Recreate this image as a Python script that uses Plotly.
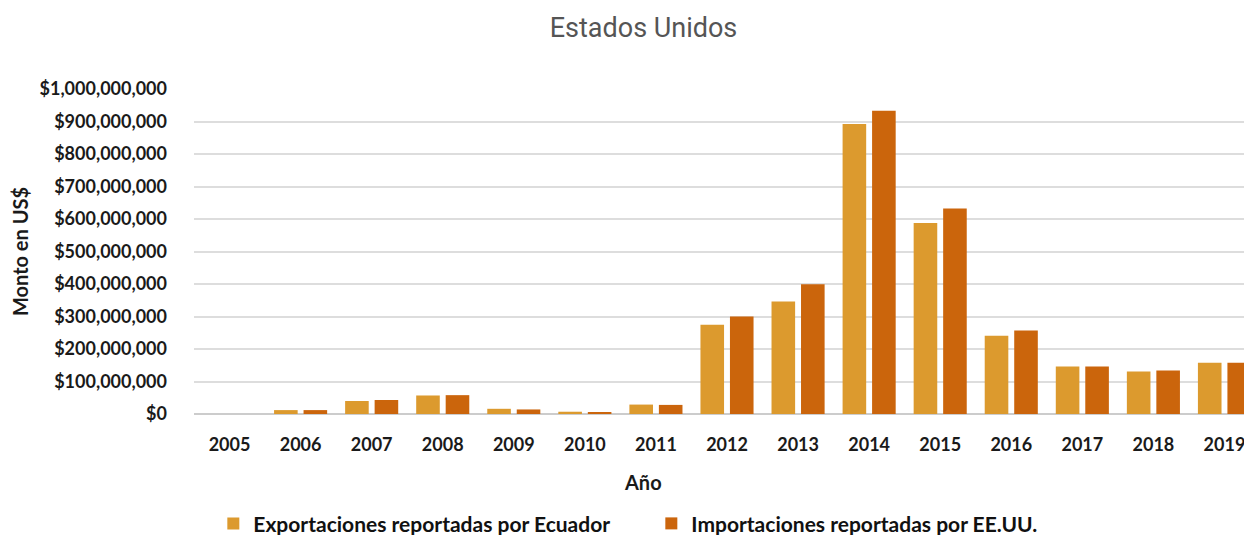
import plotly.graph_objects as go

years = [str(y) for y in range(2005, 2020)]
exportaciones = [0, 12e6, 40e6, 57e6, 16e6, 7e6, 29e6, 275e6, 346e6, 892e6, 588e6, 241e6, 146e6, 131e6, 158e6]
importaciones = [0, 12e6, 43e6, 58e6, 14e6, 6e6, 28e6, 300e6, 399e6, 933e6, 632e6, 257e6, 146e6, 134e6, 158e6]
tick_vals = [i * 100e6 for i in range(11)]
tick_text = ["$0"] + ["${:,.0f}".format(v) for v in tick_vals[1:]]

font_main = "Lato, 'Open Sans', sans-serif"

fig = go.Figure()
fig.add_trace(go.Bar(x=years, y=exportaciones, name="Exportaciones reportadas por Ecuador",
                     marker=dict(color="#DC9A2E", line=dict(width=0))))
fig.add_trace(go.Bar(x=years, y=importaciones, name="Importaciones reportadas por EE.UU.",
                     marker=dict(color="#CB650C", line=dict(width=0))))

fig.update_layout(
    width=1252, height=535,
    margin=dict(l=186, r=0, t=81, b=129),
    paper_bgcolor="white", plot_bgcolor="white",
    barmode="group", bargap=0.17, bargroupgap=0.2,
    title=dict(text="Estados Unidos", xref="container", x=0.5076, xanchor="center",
               yref="container", y=0.963, yanchor="middle",
               font=dict(family="Roboto, sans-serif", size=27, color="#555555")),
    xaxis=dict(tickfont=dict(family=font_main, size=18, color="#1a1a1a", weight="bold"),
               showline=False, ticks="", ticklabelstandoff=18, automargin=False),
    yaxis=dict(range=[0, 1e9], tickvals=tick_vals, ticktext=tick_text,
               tickfont=dict(family=font_main, size=18, color="#1a1a1a", weight="bold"),
               gridcolor="#dddddd", gridwidth=1.5, zeroline=True, zerolinecolor="#cccccc", zerolinewidth=1.5,
               title=dict(text="<b>Monto en US$</b>", font=dict(family=font_main, size=20, color="#1a1a1a"), standoff=5),
               ticks="", ticklabelstandoff=26, automargin=True),
    legend=dict(orientation="h", xref="container", x=0.164, xanchor="left",
                yref="container", y=0.036, yanchor="middle",
                font=dict(family=font_main, size=21, color="#111111", weight="bold"),
                itemwidth=30, entrywidthmode="pixels", entrywidth=393),
    annotations=[dict(text="<b>Año</b>", xref="paper", x=(643 - 8 - 186) / (1252 - 186), xanchor="center",
                      yref="paper", y=-0.209, yanchor="middle", showarrow=False,
                      font=dict(family=font_main, size=20, color="#1a1a1a"))],
    showlegend=True,
)
fig.write_html("out.html")
